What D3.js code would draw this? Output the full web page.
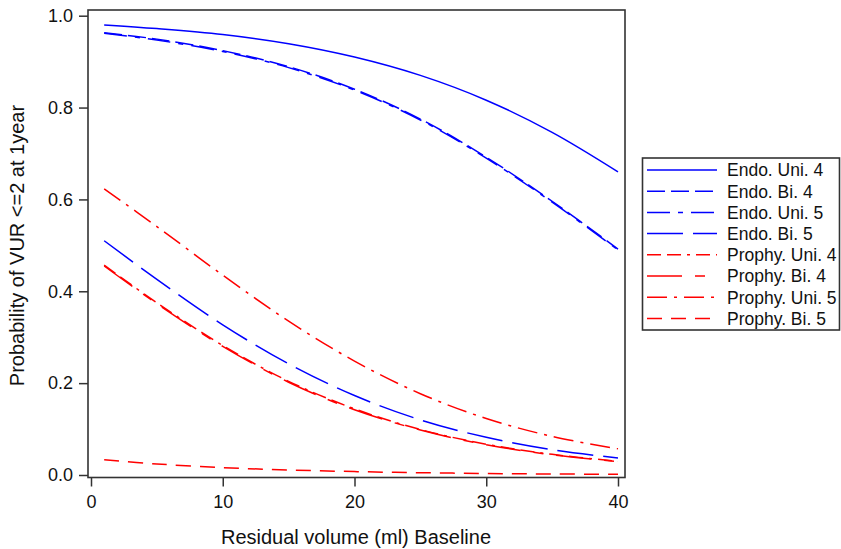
<!DOCTYPE html>
<html><head><meta charset="utf-8">
<script src="https://cdn.jsdelivr.net/npm/d3@7"></script>
<style>body{margin:0;background:#fff} text{font-family:Arial,"Liberation Sans",sans-serif;fill:#111}</style>
</head><body><svg id="c" width="841" height="549"></svg>
<script>
// ---- data ----
const xValues   = [1, 5, 10, 15, 20, 25, 30, 35, 40];
const endoUni4   = [0.980, 0.972, 0.959, 0.939, 0.910, 0.870, 0.816, 0.746, 0.660];
const endoBi4    = [0.963, 0.949, 0.924, 0.889, 0.840, 0.775, 0.692, 0.596, 0.492];
const endoUni5   = [0.962, 0.947, 0.922, 0.887, 0.838, 0.773, 0.690, 0.594, 0.490];
const endoBi5    = [0.510, 0.426, 0.327, 0.242, 0.173, 0.120, 0.082, 0.055, 0.037];
const prophyUni4 = [0.457, 0.375, 0.282, 0.204, 0.144, 0.099, 0.067, 0.045, 0.030];
const prophyBi4  = [0.455, 0.373, 0.280, 0.202, 0.142, 0.098, 0.066, 0.044, 0.029];
const prophyUni5 = [0.623, 0.541, 0.435, 0.335, 0.248, 0.177, 0.123, 0.084, 0.057];
const prophyBi5  = [0.033, 0.024, 0.016, 0.011, 0.0074, 0.0050, 0.0033, 0.0022, 0.0015];
const seriesNames = ["Endo. Uni. 4","Endo. Bi. 4","Endo. Uni. 5","Endo. Bi. 5",
                     "Prophy. Uni. 4","Prophy. Bi. 4","Prophy. Uni. 5","Prophy. Bi. 5"];
const xTicks = [0, 10, 20, 30, 40];
const yTicks = [0.0, 0.2, 0.4, 0.6, 0.8, 1.0];
const xTitle = "Residual volume (ml) Baseline";
const yTitle = "Probability of VUR <=2 at 1year";

// ---- styles ----
const seriesValues = [endoUni4, endoBi4, endoUni5, endoBi5, prophyUni4, prophyBi4, prophyUni5, prophyBi5];
const colors = ["#0000ff","#0000ff","#0000ff","#0000ff","#ff0000","#ff0000","#ff0000","#ff0000"];
const dashes = [null, "18,6", "23,8,5,8", "36,10", "14,6,14,6,3,6", "35,13,10,13", "20,7,3,7", "15,9"];

const svg = d3.select("#c");
const frame = {left: 88, right: 625, top: 10, bottom: 477.5};
const x = d3.scaleLinear().domain([0, 40]).range([91, 618]);
const y = d3.scaleLinear().domain([0, 1]).range([475, 15.7]);

// curves
const line = d3.line().x(d => x(d[0])).y(d => y(d[1])).curve(d3.curveCatmullRom);
seriesValues.forEach((vals, i) => {
  svg.append("path")
    .datum(xValues.map((xv, j) => [xv, vals[j]]))
    .attr("d", line)
    .attr("fill", "none")
    .attr("stroke", colors[i])
    .attr("stroke-width", 1.5)
    .attr("stroke-dasharray", dashes[i]);
});

// axes
const yAxis = svg.append("g").attr("transform", `translate(${frame.left},0)`)
  .call(d3.axisLeft(y).tickValues(yTicks).tickFormat(d3.format(".1f")).tickSize(9).tickPadding(6).tickSizeOuter(0));
const xAxis = svg.append("g").attr("transform", `translate(0,${frame.bottom})`)
  .call(d3.axisBottom(x).tickValues(xTicks).tickFormat(d3.format("d")).tickSize(9).tickPadding(9).tickSizeOuter(0));
[yAxis, xAxis].forEach(g => {
  g.select(".domain").remove();
  g.selectAll("line").attr("stroke", "#333").attr("stroke-width", 1.5);
  g.selectAll("text").style("font-size", "18px").style("font-family", "Arial, 'Liberation Sans', sans-serif").attr("fill", "#111");
});

// frame
svg.append("rect")
  .attr("x", frame.left).attr("y", frame.top)
  .attr("width", frame.right - frame.left).attr("height", frame.bottom - frame.top)
  .attr("fill", "none").attr("stroke", "#333").attr("stroke-width", 1.6);

// titles
svg.append("text").attr("x", 356).attr("y", 544).attr("text-anchor", "middle")
  .style("font-size", "20px").text(xTitle);
svg.append("text").attr("transform", "translate(23.5,245.5) rotate(-90)").attr("text-anchor", "middle")
  .style("font-size", "20px").text(yTitle);

// legend
const lg = svg.append("g");
lg.append("rect").attr("x", 642.5).attr("y", 158).attr("width", 197).attr("height", 172)
  .attr("fill", "#fff").attr("stroke", "#333").attr("stroke-width", 1.6);
seriesNames.forEach((name, i) => {
  const yy = 170 + i * 21.2;
  lg.append("line").attr("x1", 647).attr("x2", 717).attr("y1", yy).attr("y2", yy)
    .attr("stroke", colors[i]).attr("stroke-width", 1.5).attr("stroke-dasharray", dashes[i]);
  lg.append("text").attr("x", 727).attr("y", yy).attr("dy", "0.36em")
    .style("font-size", "17.5px").text(name);
});
</script></body></html>
